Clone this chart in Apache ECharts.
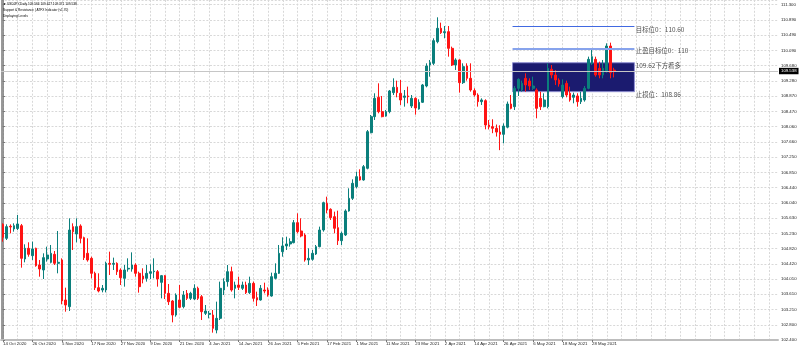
<!DOCTYPE html>
<html>
<head>
<meta charset="utf-8">
<style>
  html, body { margin: 0; padding: 0; background: #fff; }
  #chart { width: 800px; height: 351px; }
</style>
<script src="https://cdn.jsdelivr.net/npm/echarts@6/dist/echarts.min.js"></script>
</head>
<body>
<div id="chart"></div>
<script>
// USDJPY daily, 14 Oct 2020 .. 7 Jun 2021
const startDate = '2020-10-14';
const holidays = ['2020-12-25', '2021-01-01'];
const months = ['Jan', 'Feb', 'Mar', 'Apr', 'May', 'Jun', 'Jul', 'Aug', 'Sep', 'Oct', 'Nov', 'Dec'];

const opens = [
  105.471, 105.099, 105.42, 105.347, 105.36, 105.435, 104.55, 104.834, 104.639, 104.834,
  104.391, 104.258, 104.55, 104.462, 104.674, 104.435, 104.524, 103.462, 103.285, 105.409,
  105.214, 105.427, 105.117, 104.701, 104.568, 104.17, 103.789, 103.727, 103.727, 104.435,
  104.409, 104.435, 104.258, 104.037, 104.285, 104.285, 104.391, 104.17, 104.099, 104.037,
  104.17, 104.214, 104.214, 103.93, 104.108, 103.639, 103.435, 103.063, 103.462, 103.285,
  103.639, 103.506, 103.488, 103.772, 103.55, 103.108, 103.081, 103.063, 102.665, 102.975,
  103.727, 103.949, 104.214, 103.772, 103.86, 103.772, 103.86, 103.657, 103.904, 103.524,
  103.462, 103.727, 103.727, 103.568, 104.037, 104.17, 104.745, 104.896, 104.949, 104.984,
  105.515, 105.294, 105.188, 104.524, 104.542, 104.683, 104.878, 105.32, 106.028, 105.869,
  105.674, 105.382, 105.037, 105.188, 105.825, 106.161, 106.471, 106.736, 106.648, 106.958,
  107.904, 108.329, 108.843, 108.462, 108.347, 108.462, 108.967, 109.108, 108.949, 108.843,
  108.878, 108.612, 108.816, 108.533, 108.71, 109.143, 109.701, 109.745, 110.32, 110.674,
  110.559, 110.586, 110.143, 109.701, 109.834, 109.232, 109.674, 109.347, 109.02, 108.904,
  108.727, 108.754, 108.108, 108.064, 108.02, 107.92, 107.86, 108.05, 108.665, 108.595,
  109.081, 109.037, 109.347, 109.276, 109.081, 109.037, 108.816, 108.595, 108.595, 109.586,
  109.435, 109.303, 108.86, 109.214, 108.949, 108.843, 108.878, 108.727, 108.772, 109.081,
  109.745, 109.851, 109.612, 109.435, 109.524, 110.205, 109.566
];
const highs = [
  105.497, 105.471, 105.47, 105.497, 105.719, 105.48, 104.94, 104.993, 105.011, 104.851,
  104.524, 104.701, 104.878, 104.922, 104.763, 105.294, 104.568, 103.789, 105.63, 105.497,
  105.63, 105.471, 105.143, 105.099, 104.612, 104.214, 104.17, 103.86, 104.48, 104.745,
  104.586, 104.462, 104.303, 104.391, 104.568, 104.727, 104.435, 104.214, 104.303, 104.391,
  104.409, 104.568, 104.258, 104.126, 104.126, 103.887, 103.462, 103.639, 103.86, 103.701,
  103.727, 103.68, 103.878, 103.816, 103.594, 103.329, 103.17, 103.196, 103.418, 103.949,
  104.037, 104.391, 104.347, 103.949, 104.081, 103.949, 103.949, 104.081, 103.949, 103.683,
  103.86, 103.922, 103.798, 104.188, 104.435, 104.922, 105.126, 105.143, 105.099, 105.586,
  105.763, 105.63, 105.232, 104.834, 104.789, 104.922, 105.409, 106.072, 106.205, 105.896,
  105.807, 105.834, 105.276, 105.869, 106.427, 106.665, 106.869, 106.931, 107.046, 107.975,
  108.373, 108.949, 109.214, 108.878, 108.506, 109.037, 109.347, 109.285, 109.303, 109.037,
  109.126, 108.904, 108.843, 108.79, 109.197, 109.745, 109.834, 110.409, 110.966, 110.825,
  110.736, 110.736, 110.188, 109.878, 109.851, 109.745, 109.745, 109.745, 109.081, 108.949,
  108.816, 108.79, 108.24, 108.26, 108.12, 108.10, 108.15, 108.73, 108.904, 109.143,
  109.347, 109.285, 109.48, 109.347, 109.391, 109.081, 108.993, 108.949, 109.745, 109.701,
  109.568, 109.347, 109.32, 109.285, 109.126, 108.966, 108.949, 108.993, 109.143, 109.922,
  110.143, 109.922, 109.789, 109.834, 110.276, 110.294, 109.627
];
const lows = [
  105.011, 105.055, 105.232, 105.276, 105.32, 104.32, 104.462, 104.612, 104.524, 104.347,
  104.081, 104.019, 104.48, 104.435, 104.391, 104.17, 103.347, 103.152, 103.17, 104.789,
  104.993, 104.966, 104.524, 104.48, 104.037, 103.727, 103.665, 103.665, 103.665, 104.126,
  104.258, 104.126, 103.86, 103.816, 104.214, 104.214, 104.08, 103.657, 103.904, 103.949,
  104.019, 104.037, 103.816, 103.506, 103.488, 103.329, 102.869, 103.019, 103.241, 103.241,
  103.462, 103.462, 103.462, 103.462, 102.931, 103.063, 102.975, 102.595, 102.577, 102.931,
  103.595, 103.816, 103.683, 103.506, 103.727, 103.727, 103.621, 103.621, 103.418, 103.303,
  103.445, 103.639, 103.55, 103.55, 104.01, 104.152, 104.612, 104.789, 104.878, 104.966,
  105.232, 105.126, 104.48, 104.391, 104.506, 104.657, 104.86, 105.276, 105.763, 105.586,
  105.232, 104.922, 104.922, 105.161, 105.807, 106.117, 106.427, 106.63, 106.63, 106.931,
  107.887, 108.241, 108.418, 108.312, 108.329, 108.418, 108.904, 108.843, 108.639, 108.595,
  108.683, 108.559, 108.382, 108.515, 108.692, 109.108, 109.391, 109.701, 110.276, 110.524,
  110.409, 109.922, 109.674, 109.568, 108.966, 109.197, 109.285, 108.993, 108.86, 108.595,
  108.639, 107.993, 107.99, 107.89, 107.80, 107.44, 107.62, 108.02, 108.524, 108.506,
  108.878, 108.993, 108.993, 109.037, 109.037, 108.285, 108.506, 108.577, 108.55, 109.347,
  109.17, 109.126, 108.816, 108.843, 108.727, 108.683, 108.595, 108.665, 108.727, 109.055,
  109.701, 109.391, 109.347, 109.347, 109.497, 109.347, 109.371
];
const closes = [
  105.126, 105.409, 105.40, 105.435, 105.48, 104.568, 104.834, 104.674, 104.816, 104.373,
  104.285, 104.586, 104.657, 104.701, 104.435, 104.462, 103.435, 103.329, 105.32, 105.276,
  105.409, 105.099, 104.586, 104.524, 104.17, 103.789, 103.701, 103.772, 104.435, 104.409,
  104.435, 104.214, 104.055, 104.258, 104.303, 104.391, 104.17, 103.816, 104.019, 104.17,
  104.214, 104.23, 104.019, 104.108, 103.639, 103.417, 103.063, 103.594, 103.267, 103.594,
  103.506, 103.639, 103.772, 103.506, 103.152, 103.17, 103.108, 102.71, 102.975, 103.772,
  103.949, 104.214, 103.727, 103.86, 103.798, 103.86, 103.657, 103.904, 103.506, 103.462,
  103.772, 103.70, 103.595, 104.081, 104.17, 104.701, 104.896, 104.949, 105.011, 105.515,
  105.276, 105.161, 104.524, 104.568, 104.701, 104.878, 105.32, 106.046, 105.851, 105.648,
  105.365, 105.037, 105.232, 105.825, 106.161, 106.559, 106.736, 106.648, 107.002, 107.931,
  108.329, 108.816, 108.462, 108.329, 108.462, 109.011, 109.108, 108.967, 108.772, 108.878,
  108.86, 108.816, 108.559, 108.71, 109.17, 109.674, 109.763, 110.347, 110.674, 110.559,
  110.586, 110.143, 109.701, 109.834, 109.232, 109.657, 109.347, 109.037, 108.904, 108.727,
  108.772, 108.108, 108.064, 108.02, 107.92, 107.86, 108.08, 108.665, 108.55, 109.081,
  109.32, 109.214, 109.17, 109.143, 109.143, 108.55, 108.595, 108.772, 109.612, 109.435,
  109.303, 109.197, 109.17, 108.904, 108.772, 108.904, 108.727, 108.816, 109.081, 109.851,
  109.922, 109.435, 109.435, 109.612, 110.205, 109.497, 109.538
];

// price axis tick labels, bottom to top
const yLabels = [
  '102.400', '102.800', '103.210', '103.610', '104.010', '104.420', '104.820', '105.230',
  '105.630', '106.040', '106.440', '106.850', '107.250', '107.660', '108.060', '108.470',
  '108.870', '109.280', '109.680', '110.090', '110.490', '110.890', '111.300'
];

// drawn levels (price of each object) and their texts
const levelNames = ['目标位0：110.60', '止盈目标位0：110', '109.62下方看多', '止损位：108.86'];
const levelPrices = [110.717, 110.144, 109.761, 108.992];

const titleLines = [
  '▼ USDJPY,Daily 109.566 109.627 109.371 109.538',
  'Support & Resistance | ATFX Indicator (v1.70)',
  'Displaying Levels'
];

const SLOTS = 211;
const yMin = 102.4;
const yStep = (111.3 - 102.4) / 22;
const yMax = 111.426;
const lastClose = closes[closes.length - 1];

function tradingDays(start, count) {
  const out = [];
  const d = new Date(start + 'T00:00:00Z');
  while (out.length < count) {
    const wd = d.getUTCDay();
    const iso = d.toISOString().slice(0, 10);
    if (wd !== 0 && wd !== 6 && holidays.indexOf(iso) < 0) {
      out.push(d.getUTCDate() + ' ' + months[d.getUTCMonth()] + ' ' + d.getUTCFullYear());
    }
    d.setUTCDate(d.getUTCDate() + 1);
  }
  return out;
}

const dates = tradingDays(startDate, SLOTS);
const candles = opens.map((o, i) => [o, closes[i], lows[i], highs[i]]);

const chart = echarts.init(document.getElementById('chart'));
const gridLine = { color: '#d8d8d8', width: 1, type: [2, 1.6] };
const showDate = i => i % 8 === 0 && i < opens.length;

chart.setOption({
  animation: false,
  backgroundColor: '#fff',
  textStyle: { fontFamily: 'Liberation Sans, Arial, sans-serif' },
  title: titleLines.map((t, i) => ({
    text: t,
    left: 3,
    top: 3 + i * 6,
    padding: 0,
    textStyle: { fontSize: 3.2, fontWeight: 'normal', color: '#000' }
  })),
  grid: { left: 0, right: 22, top: 0, bottom: 11 },
  xAxis: [{
    type: 'category',
    data: dates,
    boundaryGap: true,
    axisLine: { lineStyle: { color: '#bdbdbd', width: 2 } },
    axisTick: { show: true, length: 2, alignWithLabel: true, interval: showDate, lineStyle: { color: '#777' } },
    axisLabel: { interval: showDate, align: 'left', fontSize: 4.3, color: '#222', margin: 2 },
    splitLine: { show: true, alignWithLabel: true, interval: i => i % 4 === 0, lineStyle: gridLine }
  }, {
    type: 'value',
    min: -0.5,
    max: SLOTS - 0.5,
    show: false
  }],
  yAxis: [{
    type: 'value',
    position: 'right',
    min: yMin,
    max: yMax,
    interval: yStep,
    axisLine: { show: true, lineStyle: { color: '#757575', width: 1.5 } },
    axisTick: { show: true, length: 2, lineStyle: { color: '#777' } },
    axisLabel: {
      fontSize: 4.3,
      color: '#222',
      margin: 3,
      showMaxLabel: false,
      formatter: v => {
        const k = Math.round((v - yMin) / yStep);
        return Math.abs(v - (yMin + k * yStep)) < yStep * 0.1 && yLabels[k] ? yLabels[k] : '';
      }
    },
    splitLine: { show: true, lineStyle: gridLine }
  }, {
    type: 'value',
    position: 'left',
    min: yMin,
    max: yMax,
    axisLine: { show: true, lineStyle: { color: '#9a9a9a', width: 1 } },
    axisTick: { show: false },
    axisLabel: { show: false },
    splitLine: { show: false }
  }],
  series: [{
    name: 'levels',
    type: 'scatter',
    xAxisIndex: 1,
    yAxisIndex: 0,
    z: 1,
    silent: true,
    symbol: 'rect',
    symbolSize: 1,
    itemStyle: { color: 'transparent' },
    data: levelPrices.map(p => [172, p]),
    label: {
      show: true,
      position: [0, 0],
      align: 'left',
      verticalAlign: 'top',
      fontSize: 6.4,
      color: '#1a1a1a',
      fontFamily: 'Noto Sans CJK SC, sans-serif',
      formatter: p => levelNames[p.dataIndex]
    },
    markArea: {
      silent: true,
      itemStyle: { color: '#1b1b6f', borderColor: '#8f8fd2', borderWidth: 1 },
      data: [[{ coord: [138.4, levelPrices[2]] }, { coord: [171.5, levelPrices[3]] }]]
    },
    markLine: {
      silent: true,
      symbol: 'none',
      label: { show: false },
      data: [
        [{ coord: [138.4, levelPrices[0]], lineStyle: { color: '#4169e1', width: 1.2, type: 'solid' } }, { coord: [171.5, levelPrices[0]] }],
        [{ coord: [138.4, levelPrices[1]], lineStyle: { color: '#87a3ec', width: 2, type: 'solid' } }, { coord: [171.5, levelPrices[1]] }],
        {
          yAxis: lastClose,
          lineStyle: { color: '#c6c6c6', width: 1, type: 'solid' },
          label: {
            show: true,
            position: 'end',
            distance: 1,
            formatter: lastClose.toFixed(3),
            backgroundColor: '#000',
            color: '#fff',
            fontSize: 4.3,
            padding: [1.2, 2]
          }
        }
      ]
    }
  }, {
    name: 'USDJPY',
    type: 'candlestick',
    xAxisIndex: 0,
    yAxisIndex: 0,
    z: 2,
    barWidth: '60%',
    data: candles,
    itemStyle: {
      color: '#0b7f7c',
      color0: '#ff1414',
      borderColor: '#0b7f7c',
      borderColor0: '#ff1414',
      borderColorDoji: '#0b7f7c',
      borderWidth: 1
    }
  }]
});
</script>
</body>
</html>
